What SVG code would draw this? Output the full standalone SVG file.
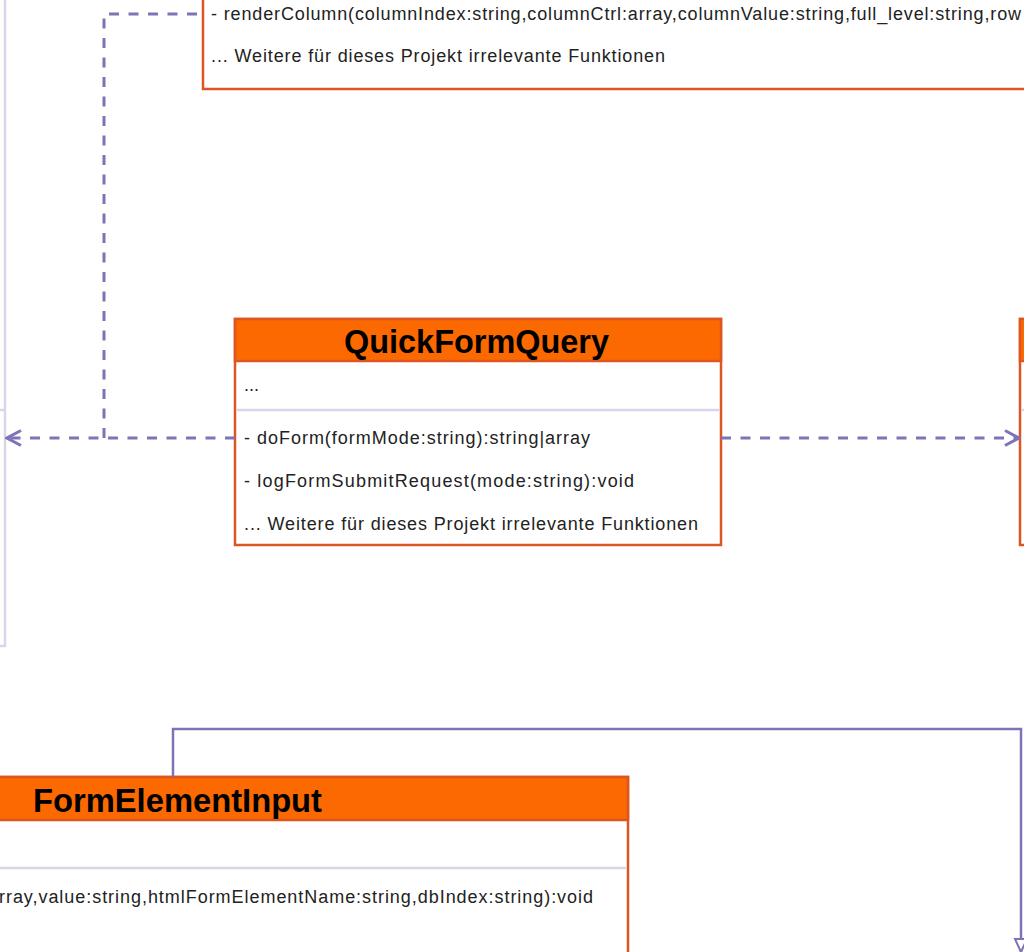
<svg xmlns="http://www.w3.org/2000/svg" width="1024" height="952" viewBox="0 0 1024 952">
  <defs>
    <style>
      .box { fill: #ffffff; stroke: #dd5520; stroke-width: 2.5; }
      .head { fill: #fb6900; stroke: #dd5520; stroke-width: 2.5; }
      .sep { stroke: #d9d6ec; stroke-width: 2.5; fill: none; }
      .title { font-family: "Liberation Sans", Arial, sans-serif; font-weight: bold; font-size: 32.5px; fill: #000000; }
      .txt { font-family: "Liberation Sans", Arial, sans-serif; font-size: 18px; fill: #222222; }
      .dep { stroke: #7d74b8; stroke-width: 3; stroke-dasharray: 10 9.5; fill: none; }
      .gen { stroke: #7d74b8; stroke-width: 2.5; fill: none; }
      .frame { stroke: #d9d6ec; stroke-width: 2.5; fill: none; }
    </style>
    <marker id="open" markerWidth="18" markerHeight="18" refX="16" refY="9" orient="auto" markerUnits="userSpaceOnUse">
      <path d="M2,1.5 L16,9 L2,16.5" fill="none" stroke="#7d74b8" stroke-width="3"/>
    </marker>
    <marker id="tri" markerWidth="16" markerHeight="16" refX="14" refY="8" orient="auto" markerUnits="userSpaceOnUse">
      <path d="M1,2 L14,8 L1,14 Z" fill="#ffffff" stroke="#7d74b8" stroke-width="2"/>
    </marker>
  </defs>

  <!-- class at the left edge (only its right border is on the sheet) -->
  <g id="node-left">
    <path class="frame" d="M5,-2 L5,646 L-2,646"/>
    <line class="sep" x1="-2" y1="410" x2="5" y2="410"/>
  </g>

  <!-- renderer class at the top -->
  <g id="node-top">
    <path class="box" d="M203,-5 L203,89 L1030,89"/>
    <text class="txt" x="211" y="20" textLength="810" lengthAdjust="spacing">- renderColumn(columnIndex:string,columnCtrl:array,columnValue:string,full_level:string,row</text>
    <text class="txt" x="211" y="62" textLength="454" lengthAdjust="spacing">... Weitere für dieses Projekt irrelevante Funktionen</text>
  </g>

  <!-- QuickFormQuery -->
  <g id="node-quickformquery">
    <rect class="box" x="235" y="319" width="486" height="226"/>
    <rect class="head" x="235" y="319" width="486" height="42"/>
    <text class="title" x="344" y="353" textLength="265" lengthAdjust="spacingAndGlyphs">QuickFormQuery</text>
    <text class="txt" x="244" y="391">...</text>
    <line class="sep" x1="236.5" y1="410" x2="719.5" y2="410"/>
    <text class="txt" x="244" y="444" textLength="346" lengthAdjust="spacing">- doForm(formMode:string):string|array</text>
    <text class="txt" x="244" y="487" textLength="390" lengthAdjust="spacing">- logFormSubmitRequest(mode:string):void</text>
    <text class="txt" x="244" y="530" textLength="454" lengthAdjust="spacing">... Weitere für dieses Projekt irrelevante Funktionen</text>
  </g>

  <!-- class at the right edge -->
  <g id="node-right">
    <rect class="box" x="1020" y="319" width="20" height="226"/>
    <rect class="head" x="1020" y="319" width="20" height="42"/>
    <line class="sep" x1="1021.5" y1="410" x2="1030" y2="410"/>
  </g>

  <!-- FormElementInput -->
  <g id="node-formelementinput">
    <rect class="box" x="-20" y="777" width="648" height="190"/>
    <rect class="head" x="-20" y="777" width="648" height="43"/>
    <text class="title" x="33" y="812" textLength="289" lengthAdjust="spacingAndGlyphs">FormElementInput</text>
    <line class="sep" x1="-20" y1="868" x2="626.5" y2="868"/>
    <text class="txt" x="-1" y="903" textLength="594" lengthAdjust="spacing">rray,value:string,htmlFormElementName:string,dbIndex:string):void</text>
  </g>

  <!-- connectors -->
  <g id="connectors">
    <path class="dep" d="M235,438 L7,438" marker-end="url(#open)"/>
    <path class="dep" d="M104,438 L104,14 L202,14"/>
    <path class="dep" d="M721,438 L1019,438" marker-end="url(#open)"/>
    <path class="gen" d="M173,777 L173,729 L1021,729 L1021,952" marker-end="url(#tri)"/>
  </g>
</svg>
